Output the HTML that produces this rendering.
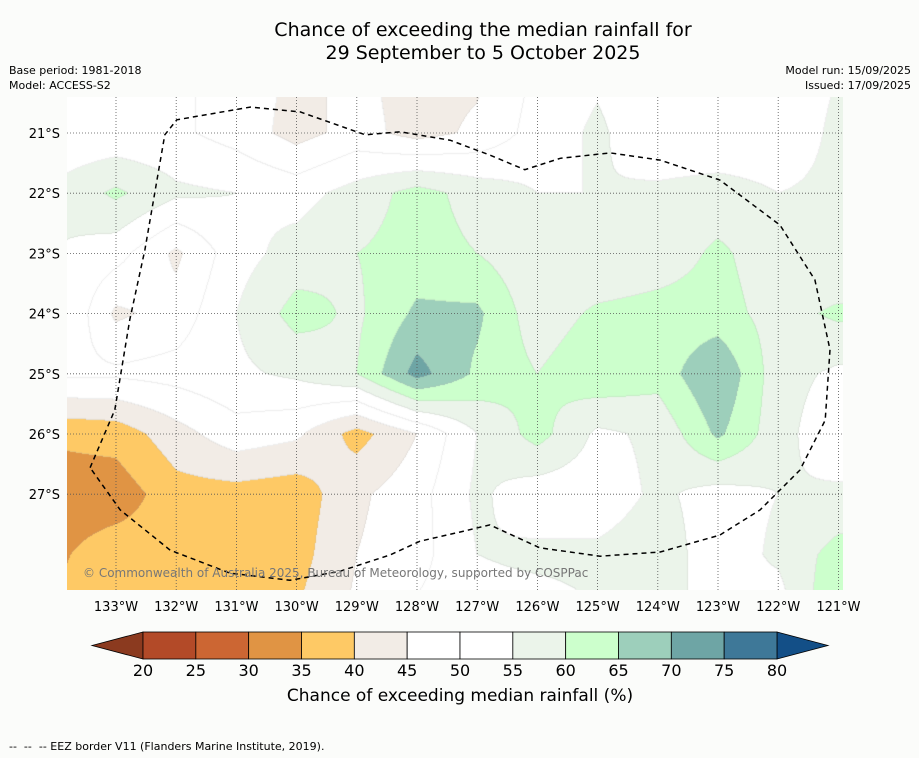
<!DOCTYPE html>
<html><head><meta charset="utf-8">
<style>
html,body{margin:0;padding:0;background:#fbfcfa;}
#wrap{position:relative;width:919px;height:758px;font-family:"DejaVu Sans","Liberation Sans",sans-serif;color:#000;overflow:hidden;}
.t{position:absolute;white-space:nowrap;}
</style></head><body>
<div id="wrap">
<div class="t" style="left:0;width:966px;top:19px;text-align:center;font-size:19px;line-height:23px;">Chance of exceeding the median rainfall for<br>29 September to 5 October 2025</div>
<div class="t" style="left:9px;top:63px;font-size:11px;line-height:15px;">Base period: 1981-2018<br>Model: ACCESS-S2</div>
<div class="t" style="right:8px;top:63px;font-size:11px;line-height:15px;text-align:right;">Model run: 15/09/2025<br>Issued: 17/09/2025</div>
<canvas id="map" width="776" height="493" style="position:absolute;left:67px;top:97px;"></canvas>
<svg id="ov" width="919" height="758" style="position:absolute;left:0;top:0;"></svg>
<div class="t" style="left:83px;top:566px;font-size:12px;color:#777;">© Commonwealth of Australia 2025, Bureau of Meteorology, supported by COSPPac</div>
<div class="t" style="left:0;width:920px;top:686px;text-align:center;font-size:17px;">Chance of exceeding median rainfall (%)</div>
<div class="t" style="left:9px;top:740px;font-size:11px;">-- &nbsp;-- &nbsp;-- EEZ border V11 (Flanders Marine Institute, 2019).</div>
</div>
<script>
// grid: rows lat 20..29 S, cols lon 134..121 W
const gridLons=[134,133,132,131,130,129,128,127,126,125,124,123,122,121];
const gridLats=[20,21,22,23,24,25,26,27,28,29];
const values=[
[51,51,51,48,44,46,43,44,51,54,51,51,52,55],
[51,51,51,48,43,47,43,46,52,56,51,51,52,56],
[56,61,56,55,53,57,62,58,55,55,56,57,55,56],
[55,52,44,53,57,60,62,60,56,55,57,61,57,55],
[57,44,47,55,62,59,66,66,57,61,62,62,58,61],
[51,51,52,54,56,60,72,64,60,64,62,70,57,54],
[36,37,43,48,46,38,45,55,62,54,56,66,57,51],
[32,32,38,38,37,44,48,56,52,52,56,53,55,56],
[34,38,37,37,38,45,48,55,56,56,58,52,56,62],
[36,38,38,37,40,46,51,53,53,55,55,55,52,66]];
const levels=[20,25,30,35,40,45,50,55,60,65,70,75,80];
const colors=["#b34a28","#cc6633","#e09444","#fec965","#f2ece6","#ffffff","#ffffff","#ebf4ea","#ccffcc","#9dcfbb","#6ea5a5","#3e7898"];
const lowColor="#8b3a1f", highColor="#134f87";
const lonTicks=[133,132,131,130,129,128,127,126,125,124,123,122,121];
const latTicks=[21,22,23,24,25,26,27];
const eezLon=[133.43,133.02,132.77,132.52,132.19,131.99,130.77,129.94,128.86,128.28,127.45,126.78,126.21,125.62,124.79,123.96,122.97,121.97,121.39,121.14,121.22,121.64,122.30,122.97,123.96,124.96,125.96,126.79,127.29,127.95,128.45,129.28,130.11,131.11,132.10,132.93,133.43];
const eezLat=[26.56,25.60,24.10,22.94,21.03,20.78,20.57,20.65,21.03,20.98,21.12,21.37,21.61,21.42,21.33,21.45,21.78,22.53,23.44,24.60,25.77,26.60,27.26,27.68,27.96,28.03,27.89,27.51,27.63,27.78,28.01,28.28,28.43,28.31,27.93,27.26,26.56];

const PX=60.2;
function xOf(lon){return 116+(133-lon)*PX;}
function yOf(lat){return 133+(lat-21)*PX;}
function lonOf(x){return 133-(x-116)/PX;}
function latOf(y){return 21+(y-133)/PX;}
function hex(c){return [parseInt(c.substr(1,2),16),parseInt(c.substr(3,2),16),parseInt(c.substr(5,2),16)];}
function sample(lon,lat){
  let c=(gridLons[0]-lon)/(gridLons[0]-gridLons[1]); let r=(lat-gridLats[0])/(gridLats[1]-gridLats[0]);
  c=Math.max(0,Math.min(gridLons.length-1.0001,c)); r=Math.max(0,Math.min(gridLats.length-1.0001,r));
  const c0=Math.floor(c),r0=Math.floor(r),fc=c-c0,fr=r-r0;
  const a=values[r0][c0],b=values[r0][c0+1],d=values[r0+1][c0],e=values[r0+1][c0+1];
  return a*(1-fc)*(1-fr)+b*fc*(1-fr)+d*(1-fc)*fr+e*fc*fr;
}
function levelOf(v){let i=-1;for(let k=0;k<levels.length;k++){if(v>=levels[k])i=k;}return i;}
const cv=document.getElementById('map'),ctx=cv.getContext('2d');
const W=cv.width,H=cv.height,img=ctx.createImageData(W,H);
const lv=new Int8Array(W*H);
for(let py=0;py<H;py++)for(let px=0;px<W;px++){
  lv[py*W+px]=levelOf(sample(lonOf(67+px+0.5),latOf(97+py+0.5)));
}
for(let py=0;py<H;py++)for(let px=0;px<W;px++){
  const l=lv[py*W+px];
  let col=l<0?hex(lowColor):(l>=colors.length?hex(highColor):hex(colors[l]));
  const edge=(px<W-1&&lv[py*W+px+1]!==l)||(py<H-1&&lv[(py+1)*W+px]!==l);
  if(edge)col=col.map(v=>Math.round(v*0.8+170*0.2));
  const o=(py*W+px)*4;img.data[o]=col[0];img.data[o+1]=col[1];img.data[o+2]=col[2];img.data[o+3]=255;
}
ctx.putImageData(img,0,0);
const NS='http://www.w3.org/2000/svg',ov=document.getElementById('ov');
const FF='DejaVu Sans, Liberation Sans, sans-serif';
function mk(t,at,txt){const e=document.createElementNS(NS,t);for(const k in at)e.setAttribute(k,at[k]);if(txt!=null)e.textContent=txt;ov.appendChild(e);return e;}
lonTicks.forEach(l=>{
  const x=xOf(l);
  const g=mk('line',{x1:x,x2:x,y1:97,y2:590,stroke:'#555','stroke-width':0.8,'stroke-dasharray':'1,2'});
  
  
  const t=mk('text',{x:x,y:611,'text-anchor':'middle','font-size':13,'font-family':FF},l+'°W');
  
  
});
latTicks.forEach(l=>{
  const y=yOf(l);
  const g=mk('line',{x1:67,x2:843,y1:y,y2:y,stroke:'#555','stroke-width':0.8,'stroke-dasharray':'1,2'});
  
  
  const t=mk('text',{x:60,y:y+5,'text-anchor':'end','font-size':13,'font-family':FF},l+'°S');
  
  
});
let d='';eezLon.forEach((l,i)=>{d+=(i?'L':'M')+xOf(l).toFixed(1)+','+yOf(eezLat[i]).toFixed(1);});
const eez=mk('path',{d:d,fill:'none',stroke:'#000','stroke-width':1.5,'stroke-dasharray':'5,4'});


const cbX0=143,cbW=(777-143)/colors.length,cbY=632,cbH=27;
const lt=mk('polygon',{points:`92,645.5 ${cbX0},${cbY} ${cbX0},${cbY+cbH}`,fill:lowColor,stroke:'#000','stroke-width':0.8});


const rt=mk('polygon',{points:`828,645.5 777,${cbY} 777,${cbY+cbH}`,fill:highColor,stroke:'#000','stroke-width':0.8});


colors.forEach((c,i)=>{
  const r=mk('rect',{x:cbX0+i*cbW,y:cbY,width:cbW,height:cbH,fill:c,stroke:'#000','stroke-width':0.8});
  
  
});
levels.forEach((v,i)=>{
  const t=mk('text',{x:cbX0+i*cbW,y:676,'text-anchor':'middle','font-size':16,'font-family':FF},v);
  
  
});
</script>
</body></html>
